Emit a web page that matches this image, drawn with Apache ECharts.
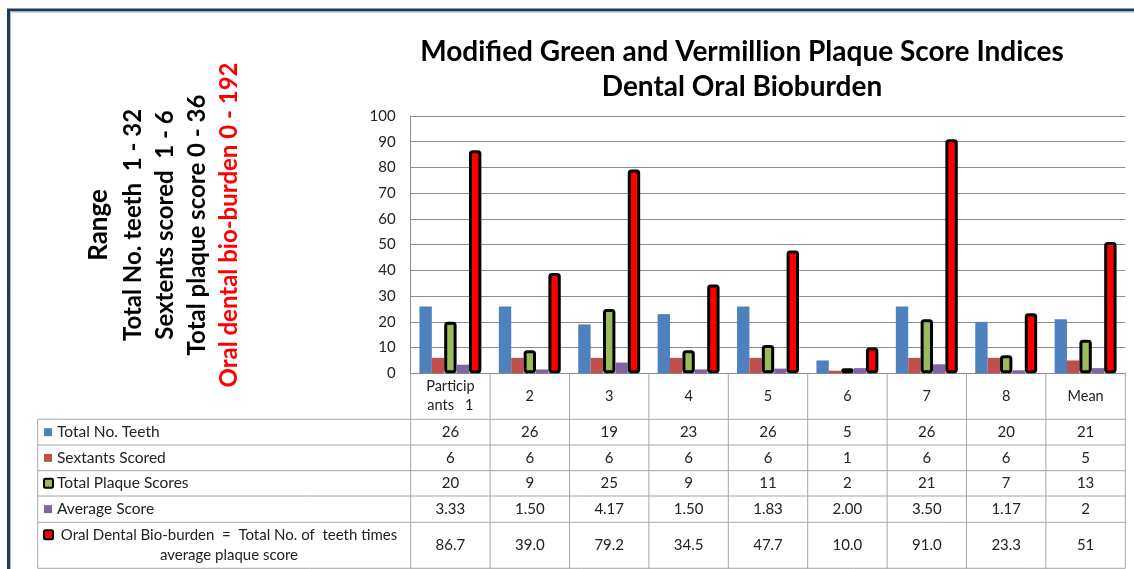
<!DOCTYPE html>
<html>
<head>
<meta charset="utf-8">
<script src="https://cdn.jsdelivr.net/npm/echarts@6/dist/echarts.min.js"></script>
<style>
  html, body { margin: 0; padding: 0; background: #ffffff; }
  #chart { width: 1134px; height: 569px; }
</style>
</head>
<body>
<div id="chart"></div>
<script>
// Participant columns and the five measured series
const categories = ['Particip\nants   1', '2', '3', '4', '5', '6', '7', '8', 'Mean'];
const totalTeeth = [26, 26, 19, 23, 26, 5, 26, 20, 21];
const sextantsScored = [6, 6, 6, 6, 6, 1, 6, 6, 5];
const totalPlaqueScores = [20, 9, 25, 9, 11, 2, 21, 7, 13];
const averageScore = [3.33, 1.50, 4.17, 1.50, 1.83, 2.00, 3.50, 1.17, 2];
const bioBurden = [86.7, 39.0, 79.2, 34.5, 47.7, 10.0, 91.0, 23.3, 51];
const yTicks = [0, 10, 20, 30, 40, 50, 60, 70, 80, 90, 100];

const seriesNames = [
  'Total No. Teeth',
  'Sextants Scored',
  'Total Plaque Scores',
  'Average Score',
  'Oral Dental Bio-burden  =  Total No. of  teeth times\naverage plaque score'
];
const rangeLines = [
  { text: 'Range', color: '#000000', size: 26 },
  { text: 'Total No. teeth  1 - 32', color: '#000000', size: 24 },
  { text: 'Sextents scored  1 - 6', color: '#000000', size: 24 },
  { text: 'Total plaque score 0 - 36', color: '#000000', size: 24 },
  { text: 'Oral dental bio-burden 0 - 192', color: '#ff0000', size: 24 }
];

const FONT = 'Lato, "Open Sans", sans-serif';
const colors = ['#4f81bd', '#c0504d', '#9bbb59', '#8064a2', '#ff0000'];
const outlined = [false, false, true, false, true];
const values = [totalTeeth, sextantsScored, totalPlaqueScores, averageScore, bioBurden];

// Cell text: participant columns keep fixed decimals, the mean column is shown as stated
const decimals = [0, 0, 0, 2, 1];
function cellText(row, i) {
  const v = values[row][i];
  if (i === categories.length - 1) return String(v);
  return v.toFixed(decimals[row]);
}

const chart = echarts.init(document.getElementById('chart'), null, { renderer: 'canvas' });

const grid = { left: 410.7, right: 8.7, top: 116, bottom: 195.7 };

chart.setOption({
  animation: false,
  backgroundColor: '#ffffff',
  title: {
    text: 'Modified Green and Vermillion Plaque Score Indices\nDental Oral Bioburden',
    left: 737,
    top: 29,
    textAlign: 'center',
    textStyle: { fontFamily: FONT, fontWeight: 'bold', fontSize: 28, color: '#000000', lineHeight: 35 }
  },
  grid: grid,
  xAxis: {
    type: 'category',
    data: categories,
    axisLine: { show: true, lineStyle: { color: '#8c8c8c', width: 1 } },
    axisTick: { show: false },
    axisLabel: { show: false },
    splitLine: { show: false }
  },
  yAxis: {
    type: 'value',
    min: yTicks[0],
    max: yTicks[yTicks.length - 1],
    interval: 10,
    axisLine: { show: true, lineStyle: { color: '#8c8c8c', width: 1 } },
    axisTick: { show: false },
    axisLabel: { color: '#222222', fontFamily: FONT, fontSize: 15, margin: 15 },
    splitLine: { show: true, lineStyle: { color: '#8c8c8c', width: 1 } }
  },
  series: values.map((data, k) => ({
    name: seriesNames[k],
    type: 'bar',
    data: data,
    barGap: '0%',
    barCategoryGap: '22%',
    itemStyle: outlined[k]
      ? { color: colors[k], borderColor: '#000000', borderWidth: 3, borderRadius: 2 }
      : { color: colors[k] }
  }))
});

// Data table under the plot, aligned with the category bands
const x0 = chart.convertToPixel({ xAxisIndex: 0 }, 0);
const x1 = chart.convertToPixel({ xAxisIndex: 0 }, 1);
const band = x1 - x0;
const plotLeft = x0 - band / 2;
const plotRight = plotLeft + band * categories.length;
const axisY = chart.convertToPixel({ yAxisIndex: 0 }, 0);
const tableLeft = 37.7;
const rowEdges = [axisY, 419.3, 445, 470.7, 496, 522.3, 568.3];
const lineColor = '#a6a6a6';

const g = [];
function hline(x1_, x2_, y) {
  g.push({ type: 'line', shape: { x1: x1_, y1: y, x2: x2_, y2: y }, style: { stroke: lineColor, lineWidth: 1 }, silent: true });
}
function vline(x, y1_, y2_) {
  g.push({ type: 'line', shape: { x1: x, y1: y1_, x2: x, y2: y2_ }, style: { stroke: lineColor, lineWidth: 1 }, silent: true });
}

// row lines
for (let r = 1; r < rowEdges.length; r++) hline(tableLeft, plotRight, rowEdges[r]);
// column dividers
vline(tableLeft, rowEdges[1], rowEdges[6]);
for (let i = 0; i <= categories.length; i++) {
  vline(plotLeft + band * i, rowEdges[0], rowEdges[6]);
}

// header row: category names
categories.forEach((c, i) => {
  g.push({
    type: 'text',
    x: plotLeft + band * (i + 0.5),
    y: (rowEdges[0] + rowEdges[1]) / 2,
    style: { text: c, fill: '#222222', font: '14.5px ' + FONT, align: 'center', verticalAlign: 'middle', lineHeight: 19 },
    silent: true
  });
});

// series rows: legend key, name, values
seriesNames.forEach((name, r) => {
  const top = rowEdges[r + 1];
  const bottom = rowEdges[r + 2];
  const cy = (top + bottom) / 2;
  const keyY = r === 4 ? top + 12.5 : cy;
  if (outlined[r]) {
    g.push({ type: 'rect', shape: { x: 44, y: keyY - 4.5, width: 9, height: 9, r: 1.5 },
      style: { fill: colors[r], stroke: '#000000', lineWidth: 2 }, silent: true });
  } else {
    g.push({ type: 'rect', shape: { x: 44, y: keyY - 4, width: 8, height: 8 },
      style: { fill: colors[r] }, silent: true });
  }
  if (r === 4) {
    g.push({ type: 'text', x: 229, y: top + 3,
      style: { text: name, fill: '#222222', font: '15px ' + FONT, align: 'center', verticalAlign: 'top', lineHeight: 20 },
      silent: true });
  } else {
    g.push({ type: 'text', x: 57, y: cy,
      style: { text: name, fill: '#222222', font: '15.5px ' + FONT, align: 'left', verticalAlign: 'middle' },
      silent: true });
  }
  categories.forEach((c, i) => {
    g.push({
      type: 'text',
      x: plotLeft + band * (i + 0.5),
      y: cy,
      style: { text: cellText(r, i), fill: '#222222', font: '15px ' + FONT, align: 'center', verticalAlign: 'middle' },
      silent: true
    });
  });
});

// rotated range notes on the left
const rangeX = [99, 133, 165, 197, 229];
rangeLines.forEach((ln, k) => {
  g.push({
    type: 'text',
    x: rangeX[k],
    y: 225,
    rotation: Math.PI / 2,
    style: { text: ln.text, fill: ln.color, font: 'bold ' + ln.size + 'px ' + FONT, align: 'center', verticalAlign: 'middle' },
    silent: true
  });
});

// outer frame (top and left edges)
g.push({ type: 'polyline', shape: { points: [[8.5, 569], [8.5, 10], [1134, 10]] },
  style: { stroke: '#1f3864', lineWidth: 3, fill: null }, silent: true });
g.push({ type: 'polyline', shape: { points: [[10.5, 569], [10.5, 12], [1134, 12]] },
  style: { stroke: '#b0b8c4', lineWidth: 1, fill: null }, silent: true });

chart.setOption({ graphic: g });
</script>
</body>
</html>
